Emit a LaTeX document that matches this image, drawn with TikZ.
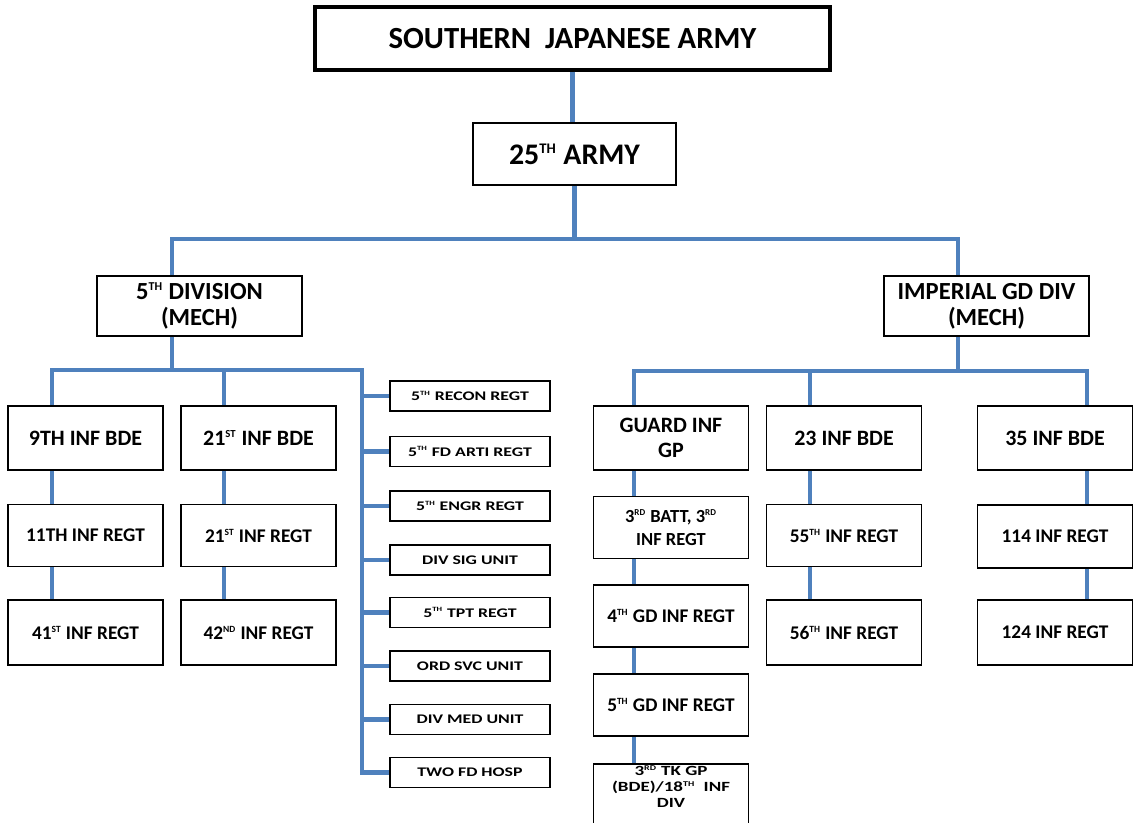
\documentclass[tikz,border=0pt]{standalone}
\usepackage{fontspec}
\setmainfont{Carlito}
\newfontfamily\widefont[FakeStretch=1.35]{Carlito}
\usepackage{graphicx}
\usepackage{tikz}
\usetikzlibrary{calc,positioning}
\definecolor{linkblue}{RGB}{79,129,189}
\newcommand{\supt}[1]{\textsuperscript{\scalebox{0.7}{#1}}}
\tikzset{%
	chart/.style    = {draw, rectangle, line width=1.1pt, align=center, inner sep=1pt},
	toplevel/.style = {chart, line width=1.8pt, minimum width=10.3cm, minimum height=1.26cm, font=\bfseries\fontsize{17.5}{19}\selectfont},
	army/.style     = {chart, minimum width=4.06cm, minimum height=1.24cm, font=\bfseries\fontsize{17}{19}\selectfont},
	division/.style = {chart, minimum width=4.1cm, minimum height=1.2cm, font=\bfseries\fontsize{14}{15}\selectfont},
	brigade/.style  = {chart, minimum width=3.1cm, minimum height=1.28cm, font=\bfseries\fontsize{12.5}{14}\selectfont},
	regiment/.style = {chart, minimum width=3.1cm, minimum height=1.24cm, font=\bfseries\fontsize{11}{12}\selectfont},
	support/.style  = {chart, minimum width=3.2cm, minimum height=0.6cm, font=\widefont\bfseries\fontsize{7.5}{8}\selectfont},
	link/.style     = {draw=linkblue, line width=2.3pt},
}

\begin{document}
\begin{tikzpicture}[x=0.02cm, y=-0.02cm]
		\useasboundingbox (0,0) rectangle (1138,822);
		
		% top of the chart
		\node[toplevel] (sja) at (572.5,38.5) {SOUTHERN\ \ JAPANESE ARMY};
		\node[army] (army) at (574.5,154) {25\supt{TH} ARMY};
		\node[division] (div5) at (199.5,306) {5\supt{TH} DIVISION\\(MECH)};
		\node[division] (idiv) at (986.5,306) {IMPERIAL GD DIV\\(MECH)};
		
		% 5th division
		\node[brigade] (bde9) at (85.5,438) {9TH INF BDE};
		\node[brigade] (bde21) at (258.5,438) {21\supt{ST} INF BDE};
		\node[regiment] (reg11) at (85.5,535.5) {11TH INF REGT};
		\node[regiment] (reg21) at (258.5,535.5) {21\supt{ST} INF REGT};
		\node[regiment, minimum height=1.3cm] (reg41) at (85.5,632.5) {41\supt{ST} INF REGT};
		\node[regiment, minimum height=1.3cm] (reg42) at (258.5,632.5) {42\supt{ND} INF REGT};
		
		\node[support] (recon) at (470,396) {5\supt{TH} RECON REGT};
		\node[support] (arti) at (470,451.5) {5\supt{TH} FD ARTI REGT};
		\node[support] (engr) at (470,506) {5\supt{TH} ENGR REGT};
		\node[support] (sig) at (470,560) {DIV SIG UNIT};
		\node[support] (tpt) at (470,612.5) {5\supt{TH} TPT REGT};
		\node[support] (ord) at (470,666) {ORD SVC UNIT};
		\node[support] (med) at (470,719.5) {DIV MED UNIT};
		\node[support] (hosp) at (470,772.5) {TWO FD HOSP};
		
		% imperial guard division
		\node[brigade] (guard) at (671,438) {GUARD INF\\GP};
		\node[regiment, font=\bfseries\fontsize{10.5}{13}\selectfont] (batt) at (671,527.5) {3\supt{RD} BATT, 3\supt{RD}\\INF REGT};
		\node[regiment] (gd4) at (671,616) {4\supt{TH} GD INF REGT};
		\node[regiment] (gd5) at (671,705) {5\supt{TH} GD INF REGT};
		% runs off the bottom edge
		\node[regiment, anchor=north, minimum height=1.15cm, font=\widefont\bfseries\fontsize{8}{9}\selectfont] (tk) at (671,763) {3\supt{RD} TK GP\\(BDE)/18\supt{TH}\ \ INF\\DIV\\ \strut};
		
		\node[brigade] (bde23) at (844,438) {23 INF BDE};
		\node[regiment] (reg55) at (844,535.5) {55\supt{TH} INF REGT};
		\node[regiment, minimum height=1.3cm] (reg56) at (844,632.5) {56\supt{TH} INF REGT};
		\node[brigade] (bde35) at (1055,438) {35 INF BDE};
		\node[regiment, minimum height=1.26cm] (reg114) at (1055,536.5) {114 INF REGT};
		\node[regiment, minimum height=1.3cm] (reg124) at (1055,632.5) {124 INF REGT};
		
		% connectors
		\coordinate (busL) at (172,239);
		\coordinate (busR) at (958,239);
		\draw[link] (sja.south) -- (sja.south |- army.north);
		\draw[link] (army.south) -- (army.south |- busL);
		\draw[link] (div5.north -| busL) -- (busL) -- (busR) -- (idiv.north -| busR);
		
		\coordinate (leftL) at (52,370);
		\coordinate (leftM) at (224,370);
		\coordinate (leftR) at (362,370);
		\draw[link] (div5.south -| busL) -- (busL |- leftL);
		\draw[link] (bde9.north -| leftL) -- (leftL) -- (leftR) -- (leftR |- hosp.west) -- (hosp.west);
		\draw[link] (leftM) -- (bde21.north -| leftM);
		\foreach \n in {recon,arti,engr,sig,tpt,ord,med}
			\draw[link] (leftR |- \n.west) -- (\n.west);
		\draw[link] (bde9.south -| leftL) -- (reg11.north -| leftL) (reg11.south -| leftL) -- (reg41.north -| leftL);
		\draw[link] (bde21.south -| leftM) -- (reg21.north -| leftM) (reg21.south -| leftM) -- (reg42.north -| leftM);
		
		\coordinate (rightL) at (634,371);
		\coordinate (rightM) at (810,371);
		\coordinate (rightR) at (1087,371);
		\draw[link] (idiv.south -| busR) -- (busR |- rightL);
		\draw[link] (guard.north -| rightL) -- (rightL) -- (rightR) -- (bde35.north -| rightR);
		\draw[link] (rightM) -- (bde23.north -| rightM);
		\draw[link] (guard.south -| rightL) -- (batt.north -| rightL) (batt.south -| rightL) -- (gd4.north -| rightL)
			(gd4.south -| rightL) -- (gd5.north -| rightL) (gd5.south -| rightL) -- (tk.north -| rightL);
		\draw[link] (bde23.south -| rightM) -- (reg55.north -| rightM) (reg55.south -| rightM) -- (reg56.north -| rightM);
		\draw[link] (bde35.south -| rightR) -- (reg114.north -| rightR) (reg114.south -| rightR) -- (reg124.north -| rightR);
\end{tikzpicture}
\end{document}
